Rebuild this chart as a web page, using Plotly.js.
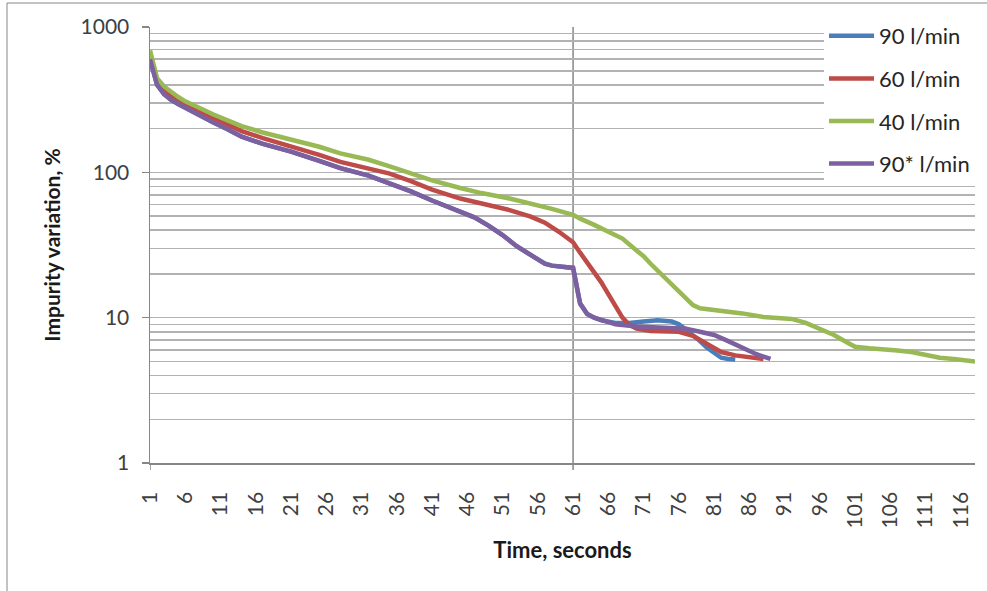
<!DOCTYPE html>
<html>
<head>
<meta charset="utf-8">
<script src="https://cdn.plot.ly/plotly-3.0.1.min.js"></script>
<style>html,body{margin:0;padding:0;background:#fff;}#chart{width:987px;height:591px;}</style>
</head>
<body>
<div id="chart"></div>
<script>
// ---- data ----
const seriesNames = ["90 l/min", "60 l/min", "40 l/min", "90* l/min"];

const t90 = [1,2,3,4,5,6,8,10,12,14,17,21,25,28,32,35,38,41,44,47,49,51,53,55,56,57,58,60,61,62,63,64,65,67,69,71,73,75,76,77,78,79,80,81,82,83,84];
const v90 = [600,400,345,315,295,278,245,220,198,176,157,139,120,107,95,84,74,64,56,49,43,37,31,27,25,23.5,22.8,22.5,22,12.5,10.6,10.0,9.6,9.2,9.2,9.4,9.6,9.4,9.0,8.3,7.6,6.9,6.2,5.7,5.3,5.2,5.15];

const t60 = [1,2,3,4,5,6,8,10,12,14,17,21,25,28,32,35,38,41,45,48,52,55,57,59,60,61,62,63,64,65,66,67,68,69,70,72,76,78,80,81,82,84,86,88];
const v60 = [640,420,365,335,312,292,262,238,215,192,172,152,132,118,106,98,87,76,66,61,55,49.6,45,39,36,33,28,24,20.5,17.5,14.5,12,10,8.9,8.4,8.1,8.0,7.5,6.6,6.1,5.8,5.5,5.35,5.2];

const t40 = [1,2,3,4,5,6,8,10,12,14,17,21,25,28,32,35,38,41,45,48,52,55,58,61,62,64,66,68,70,71,72,74,76,77,78,79,81,83,85,88,90,92,94,96,98,100,101,103,105,107,109,111,113,115,117,118];
const v40 = [690,445,390,355,330,308,275,250,228,208,188,168,150,135,122,110,98,88,78,72,66,61,56,51,48,43.5,39,35,29,26.5,23.5,19,15,13.5,12.2,11.6,11.3,11.0,10.7,10.1,10.0,9.8,9.2,8.4,7.6,6.7,6.3,6.15,6.1,5.95,5.8,5.5,5.3,5.2,5.05,5.0];

const t90s = [1,2,3,4,5,6,8,10,12,14,17,21,25,28,32,35,38,41,44,47,49,51,53,55,56,57,58,60,61,62,63,64,65,67,70,74,77,79,81,83,85,87,89];
const v90s = [600,400,345,315,295,278,245,220,198,176,157,139,120,107,95,84,74,64,56,49,43,37,31,27,25,23.5,22.8,22.5,22,12.5,10.6,10.0,9.6,9.0,8.7,8.6,8.4,8.0,7.6,6.9,6.2,5.6,5.2];

const xTickVals = [1,6,11,16,21,26,31,36,41,46,51,56,61,66,71,76,81,86,91,96,101,106,111,116];
const yTickVals = [1,10,100,1000];
const yMinorVals = [2,3,4,5,6,7,8,9,20,30,40,50,60,70,80,90,200,300,400,500,600,700,800,900];
const xRange = [1,118];
const markerTime = 61;

// ---- styling ----
const colors = ["#4A7EBB", "#BE4B48", "#98B954", "#7D60A0"];
const W = 987, H = 591;
const M = {l:150, r:12, t:27, b:128};
const pw = W - M.l - M.r, ph = H - M.t - M.b;
const px = x => (x - M.l) / pw;
const py = y => (H - M.b - y) / ph;
const axisGray = "#868686";
const gridGray = "#b2b2b2";
const textCol = "#404040";
const FONT = "Lato, 'Open Sans', sans-serif";

const xs = [t90, t60, t40, t90s];
const ys = [v90, v60, v40, v90s];
const traces = seriesNames.map((n, i) => ({
  type: "scatter", mode: "lines", name: n,
  x: xs[i], y: ys[i],
  legendgroup: "g" + i,
  line: {color: colors[i], width: 4.5}
}));

const layout = {
  width: W, height: H,
  margin: M,
  paper_bgcolor: "#fff", plot_bgcolor: "#fff",
  font: {family: FONT, color: textCol, size: 21},
  showlegend: true,
  legend: {
    x: px(824), y: py(15), xanchor: "left", yanchor: "top",
    bgcolor: "#fff", borderwidth: 0,
    traceorder: "grouped", tracegroupgap: 11,
    itemwidth: 45,
    font: {family: FONT, size: 22, color: "#262626"}
  },
  xaxis: {
    type: "linear", range: xRange,
    tickmode: "array", tickvals: xTickVals, ticktext: xTickVals.map(String),
    tickangle: -90, ticks: "", ticklabelstandoff: 19,
    tickfont: {size: 21, color: textCol},
    showline: true, linecolor: axisGray, linewidth: 1.5,
    showgrid: false, zeroline: false,
    title: {text: "<b>Time, seconds</b>", font: {size: 22, color: "#1a1a1a"}, standoff: 15}
  },
  yaxis: {
    type: "log", range: [0, 3],
    tickmode: "array", tickvals: yTickVals, ticktext: yTickVals.map(String),
    ticks: "outside", ticklen: 7, tickcolor: axisGray, tickwidth: 1.5,
    ticklabelstandoff: 8,
    tickfont: {size: 21, color: textCol},
    showline: true, linecolor: axisGray, linewidth: 1.5,
    showgrid: true, gridcolor: gridGray, gridwidth: 1.5,
    minor: {tickmode: "array", tickvals: yMinorVals, showgrid: true, gridcolor: gridGray, gridwidth: 1.5, ticks: ""},
    zeroline: false,
    title: {text: "<b>Impurity variation, %</b>", font: {size: 21, color: "#1a1a1a"}, standoff: 14}
  },
  shapes: [
    // chart-area border
    {type: "rect", xref: "paper", yref: "paper", x0: px(7), x1: px(995), y0: py(598), y1: py(3),
     line: {color: axisGray, width: 1}, fillcolor: "rgba(0,0,0,0)", layer: "below"},
    // vertical category gridline at t = 61, with its tick
    {type: "line", xref: "x", yref: "paper", x0: markerTime, x1: markerTime, y0: py(470), y1: 1,
     line: {color: axisGray, width: 1.5}, layer: "below"},
    // tick at the first category
    {type: "line", xref: "x", yref: "paper", x0: xRange[0], x1: xRange[0], y0: py(470), y1: 0,
     line: {color: axisGray, width: 1.5}, layer: "below"}
  ]
};

Plotly.newPlot("chart", traces, layout, {displayModeBar: false, staticPlot: true});
</script>
</body>
</html>
